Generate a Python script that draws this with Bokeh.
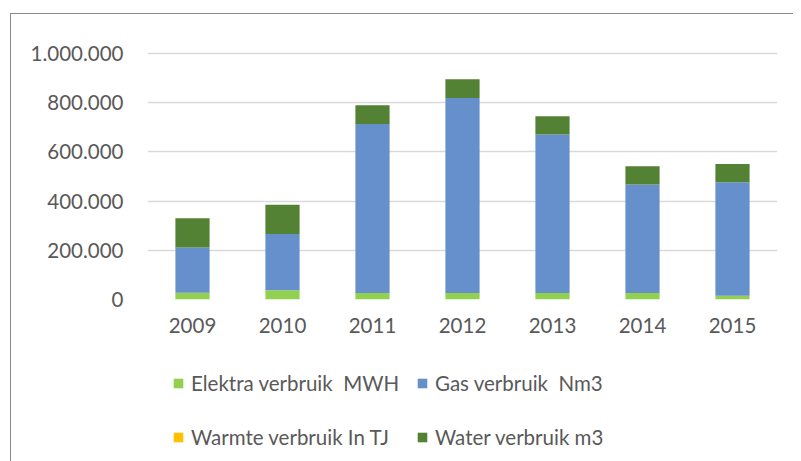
from bokeh.plotting import figure
from bokeh.layouts import column
from bokeh.models import (FactorRange, Range1d, FixedTicker, Legend, LegendItem)
from bokeh.embed import file_html
from bokeh.resources import INLINE

years = ["2009", "2010", "2011", "2012", "2013", "2014", "2015"]
elektra = [27000, 38000, 26000, 26000, 26000, 26000, 15000]
gas = [184000, 228000, 687000, 793000, 645000, 441000, 461000]
warmte = [0, 0, 0, 0, 0, 0, 0]
water = [119000, 119000, 76000, 76000, 74000, 74000, 75000]

series_names = ["Elektra verbruik  MWH", "Gas verbruik  Nm3",
                "Warmte verbruik In TJ", "Water verbruik m3"]
series_colors = ["#92D050", "#6690CC", "#FFC000", "#548235"]

y_ticks = [0, 200000, 400000, 600000, 800000, 1000000]
y_tick_labels = ["0", "200.000", "400.000", "600.000", "800.000", "1.000.000"]

FONT = "Lato"
TXT = "#595959"
BORDER = "1.5px solid #8a8a8a"

data = {"years": years, "e": elektra, "g": gas, "w": warmte, "wa": water}

p = figure(x_range=FactorRange(*years, range_padding=0),
           y_range=Range1d(0, 1020000),
           width=783, height=335,
           min_border_left=136, min_border_right=17,
           min_border_top=34, min_border_bottom=50,
           output_backend="svg", toolbar_location=None)
p.margin = (13, 0, 0, 10)
p.styles = {"border-top": BORDER, "border-left": BORDER}

rs = p.vbar_stack(["e", "g", "w", "wa"], x="years", width=0.38, source=data,
                  color=series_colors, line_color=None)

p.outline_line_color = None
p.background_fill_color = "white"
p.border_fill_color = "white"

p.xgrid.grid_line_color = None
p.ygrid.grid_line_color = "#D9D9D9"
p.ygrid.grid_line_width = 1.5
p.ygrid.ticker = FixedTicker(ticks=y_ticks)

p.yaxis.ticker = FixedTicker(ticks=y_ticks)
p.yaxis.major_label_overrides = {t: l for t, l in zip(y_ticks, y_tick_labels)}
for ax in (p.xaxis[0], p.yaxis[0]):
    ax.axis_line_color = None
    ax.major_tick_line_color = None
    ax.minor_tick_line_color = None
    ax.major_tick_out = 0
    ax.major_tick_in = 0
    ax.major_label_text_font = FONT
    ax.major_label_text_font_size = "20.5px"
    ax.major_label_text_color = TXT
p.yaxis.major_label_standoff = 24
p.xaxis.major_label_standoff = 18

# legend panel (swatches drawn by off-screen proxy renderers in the series colours)
q = figure(x_range=Range1d(0, 1), y_range=Range1d(0, 1), width=783, height=113,
           min_border=0, x_axis_location=None, y_axis_location=None,
           output_backend="svg", toolbar_location=None)
q.margin = (0, 0, 0, 10)
q.styles = {"border-left": BORDER}
q.grid.visible = False
q.outline_line_color = None
q.background_fill_color = "white"
q.border_fill_color = "white"
proxies = [q.vbar(x=[-10], top=[0], width=0.1, color=c, line_color=None) for c in series_colors]

common = dict(orientation="horizontal", padding=0, margin=0, spacing=15,
              border_line_color=None, background_fill_alpha=0,
              glyph_width=12, glyph_height=12, label_standoff=7, label_width=210,
              label_text_font=FONT, label_text_font_size="20.5px",
              label_text_color=TXT)

leg1 = Legend(items=[LegendItem(label=series_names[i], renderers=[proxies[i]]) for i in (0, 1)],
              location=(25, 66), **common)
leg2 = Legend(items=[LegendItem(label=series_names[i], renderers=[proxies[i]]) for i in (2, 3)],
              location=(25, 12), **common)
q.add_layout(leg1, "center")
q.add_layout(leg2, "center")

layout = column(p, q, spacing=0)
open("out.html", "w").write(file_html(layout, INLINE))
